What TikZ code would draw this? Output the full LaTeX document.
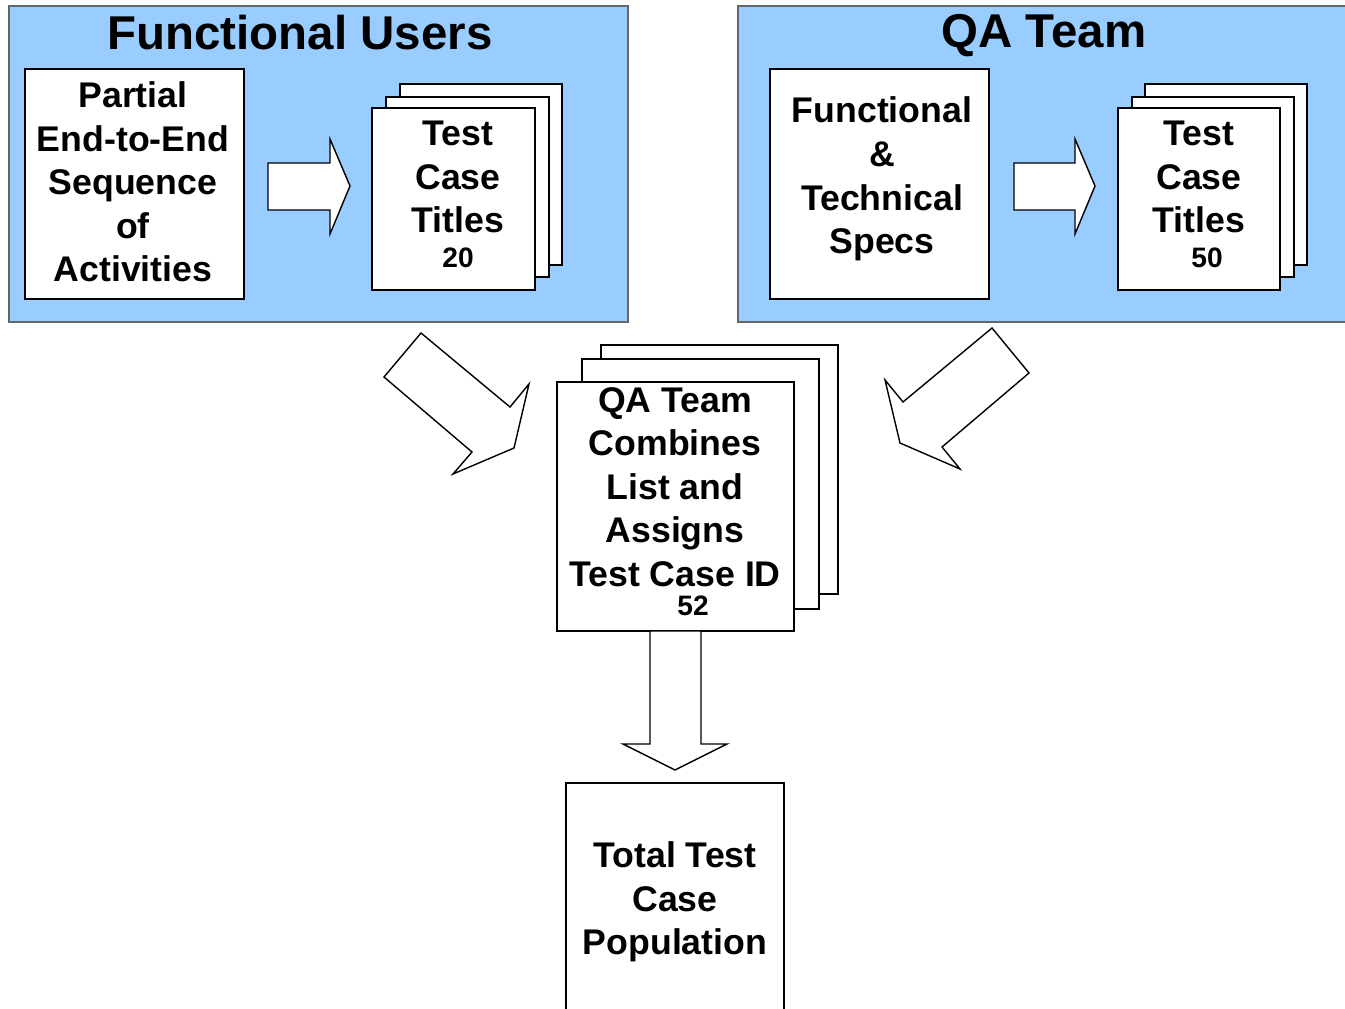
\documentclass[tikz,border=0pt]{standalone}
\usepackage{fontspec}
\setmainfont{Liberation Sans}
\usetikzlibrary{positioning}
\definecolor{panelblue}{HTML}{99CCFF}

\begin{document}
\begin{tikzpicture}[x=0.02cm,y=-0.02cm,
	panel/.style={draw=black!60, fill=panelblue, line width=0.6pt},
	page/.style={draw=black, fill=white, line width=0.7pt, inner sep=0pt},
	blockarrow/.style={draw=black, fill=white, line width=0.8pt, line join=miter},
	big/.style={font=\fontsize{27}{32}\selectfont\bfseries},
	txt/.style={align=center, font=\fontsize{20.3}{24.8}\selectfont\bfseries},
	num/.style={font=\fontsize{16}{19}\selectfont\bfseries}]

\useasboundingbox (0,0) rectangle (1345,1008);

	% the two blue panels
	\draw [panel] (9,6) rectangle (628,322);
	\draw [panel] (738,6) rectangle (1352,322);
	\node (U) [big] at (300,33) {Functional Users};
	\node (Q) [big] at (1044,36) {QA Team};

	% functional users
	\node (A) [page, minimum width=4.38cm, minimum height=4.6cm] at (134.5,184) {};
	\node (a) [txt] at (133,182) {Partial\\End-to-End\\Sequence\\of\\Activities};
	\node (B3) [page, minimum width=3.24cm, minimum height=3.62cm] at (481,174.5) {};
	\node (B2) [page, minimum width=3.26cm, minimum height=3.6cm] at (467.5,187) {};
	\node (B) [page, minimum width=3.26cm, minimum height=3.64cm] at (453.5,199) {};
	\node (b) [txt] at (458,177) {Test\\Case\\Titles};
	\node (b1) [num] at (458,258) {20};
	\draw [blockarrow] (268,163) -- (330,163) -- (330,139) -- (350,186) -- (330,234) -- (330,210) -- (268,210) -- cycle;

	% qa team
	\node (C) [page, minimum width=4.38cm, minimum height=4.6cm] at (879.5,184) {};
	\node (c) [txt] at (882,179) {Functional\\\&\\Technical\\Specs};
	\node (D3) [page, minimum width=3.24cm, minimum height=3.62cm] at (1226,174.5) {};
	\node (D2) [page, minimum width=3.24cm, minimum height=3.6cm] at (1213,187) {};
	\node (D) [page, minimum width=3.24cm, minimum height=3.64cm] at (1199,199) {};
	\node (d) [txt] at (1199,177) {Test\\Case\\Titles};
	\node (d1) [num] at (1207,258) {50};
	\draw [blockarrow] (1014,163) -- (1075,163) -- (1075,139) -- (1095,186) -- (1075,234) -- (1075,210) -- (1014,210) -- cycle;

	% combined list
	\draw [blockarrow] (421,333) -- (510,407) -- (529,384) -- (514,448) -- (453,474) -- (472,452) -- (384,377) -- cycle;
	\draw [blockarrow] (992,328) -- (1029,373) -- (942,447) -- (960,469) -- (900,443) -- (885,380) -- (903,402) -- cycle;
	\node (E3) [page, minimum width=4.74cm, minimum height=4.98cm] at (719.5,469.5) {};
	\node (E2) [page, minimum width=4.74cm, minimum height=5cm] at (700.5,484) {};
	\node (E) [page, minimum width=4.74cm, minimum height=4.98cm] at (675.5,506.5) {};
	\node (e) [txt] at (675,487) {QA Team\\Combines\\List and\\Assigns\\Test Case ID};
	\node (e1) [num] at (693,606) {52};

	% total
	\draw [blockarrow] (650,631) -- (650,744) -- (623,744) -- (675,770) -- (727,744) -- (701,744) -- (701,631) -- cycle;
	\node (F) [page, minimum width=4.36cm, minimum height=4.8cm] at (675,903) {};
	\node (f) [txt] at (675,902) {Total Test\\Case\\Population};

\end{tikzpicture}
\end{document}
